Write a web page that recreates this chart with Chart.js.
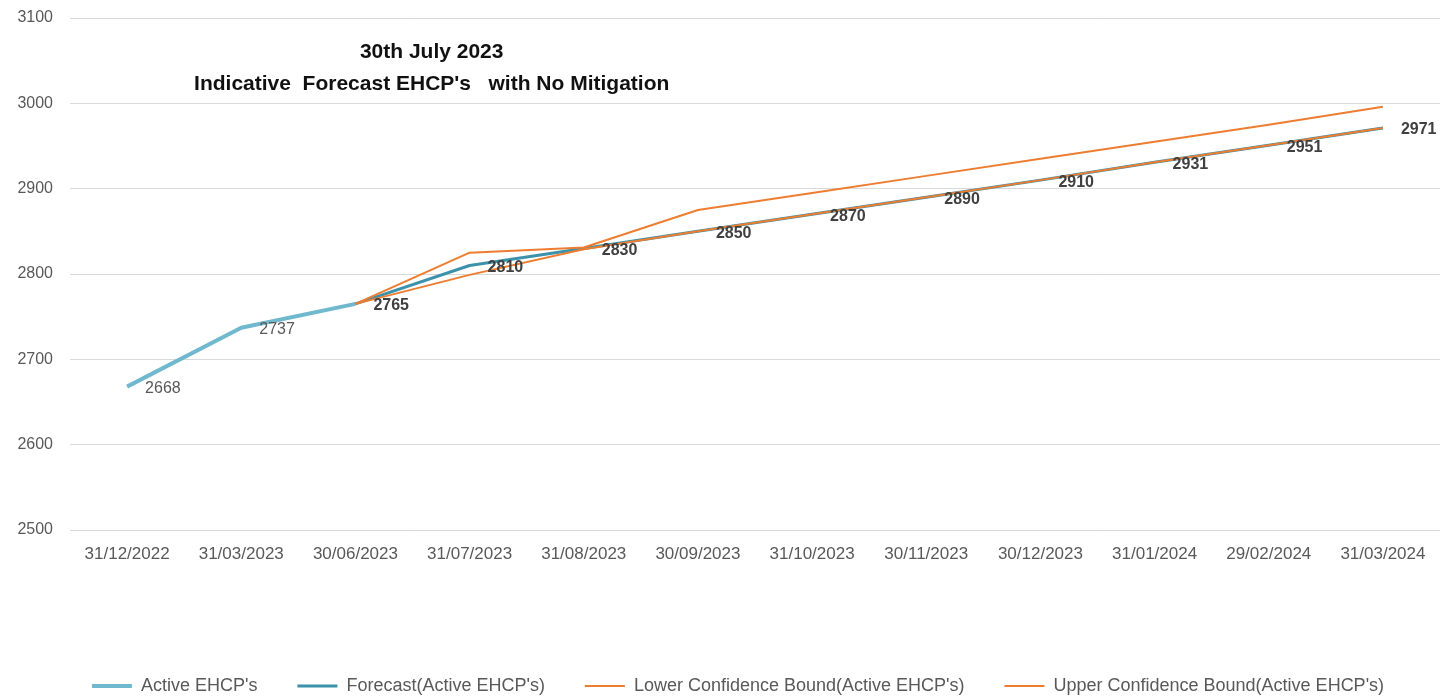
<!DOCTYPE html>
<html>
<head>
<meta charset="utf-8">
<title>Indicative Forecast EHCP's</title>
<script src="https://cdn.jsdelivr.net/npm/chart.js@4.4.0/dist/chart.umd.min.js"></script>
<style>
  html, body { margin: 0; padding: 0; background: #fff; }
  #wrap { width: 1443px; height: 698px; }
</style>
</head>
<body>
<div id="wrap"><canvas id="lineChart"></canvas></div>
<script>
// dates on the x axis
var dates = ['31/12/2022', '31/03/2023', '30/06/2023', '31/07/2023', '31/08/2023', '30/09/2023',
             '31/10/2023', '30/11/2023', '30/12/2023', '31/01/2024', '29/02/2024', '31/03/2024'];

var activeEhcps = [2668, 2737, 2765, null, null, null, null, null, null, null, null, null];
var forecast = [null, null, 2765, 2810, 2830, 2850, 2870, 2890, 2910, 2931, 2951, 2971];
var lowerBound = [null, null, 2765, 2799, 2829, 2850, 2870, 2890, 2910, 2931, 2951, 2971];
var upperBound = [null, null, 2765, 2825, 2831, 2875, 2895, 2915, 2935, 2955, 2975, 2996];

var yTicks = [2500, 2600, 2700, 2800, 2900, 3000, 3100];
var titleLines = ['30th July 2023', "Indicative  Forecast EHCP's   with No Mitigation"];

var sans = "'Liberation Sans', Arial, sans-serif";

// value labels next to the points (active + forecast only)
var valueLabels = {
    id: 'valueLabels',
    afterDatasetsDraw: function (chart) {
        var ctx = chart.ctx;
        ctx.save();
        ctx.textBaseline = 'middle';
        ctx.textAlign = 'left';
        [0, 1].forEach(function (di) {
            var meta = chart.getDatasetMeta(di);
            var ds = chart.data.datasets[di];
            ctx.font = (di === 1 ? 'bold ' : '') + '16px ' + sans;
            ctx.fillStyle = di === 1 ? '#404040' : '#595959';
            meta.data.forEach(function (pt, i) {
                var v = ds.data[i];
                if (v === null) return;
                if (di === 0 && forecast[i] !== null) return; // shared point labelled by forecast
                ctx.fillText(String(v), pt.x + 18, pt.y + 2);
            });
        });
        ctx.restore();
    }
};

// two-line title inside the plot area, legend nudged to the right a bit
var innerTitle = {
    id: 'innerTitle',
    afterLayout: function (chart) {
        if (chart.legend) {
            chart.legend.left += 18;
            chart.legend.right += 18;
        }
    },
    afterDraw: function (chart) {
        var ca = chart.chartArea;
        var ctx = chart.ctx;
        var cx = ca.left + (ca.right - ca.left) * 0.264;
        ctx.save();
        ctx.font = 'bold 21px ' + sans;
        ctx.fillStyle = '#111';
        ctx.textAlign = 'center';
        ctx.textBaseline = 'middle';
        ctx.fillText(titleLines[0], cx, ca.top + 34);
        ctx.fillText(titleLines[1], cx, ca.top + 66);
        ctx.restore();
    }
};

var lineCanvas = document.getElementById('lineChart').getContext('2d');

new Chart(lineCanvas, {
    type: 'line',
    data: {
        labels: dates,
        datasets: [
            {
                label: "Active EHCP's",
                data: activeEhcps,
                borderColor: '#6fb8cd',
                backgroundColor: '#6fb8cd',
                borderWidth: 4,
                order: 4
            },
            {
                label: "Forecast(Active EHCP's)",
                data: forecast,
                borderColor: '#3b92aa',
                backgroundColor: '#3b92aa',
                borderWidth: 3,
                order: 3
            },
            {
                label: "Lower Confidence Bound(Active EHCP's)",
                data: lowerBound,
                borderColor: '#ed7d31',
                backgroundColor: '#ed7d31',
                borderWidth: 2,
                order: 2
            },
            {
                label: "Upper Confidence Bound(Active EHCP's)",
                data: upperBound,
                borderColor: '#ed7d31',
                backgroundColor: '#ed7d31',
                borderWidth: 2,
                order: 1
            }
        ]
    },
    options: {
        responsive: true,
        maintainAspectRatio: false,
        animation: false,
        layout: { padding: { top: 18, right: 3, left: 0, bottom: -7 } },
        elements: {
            point: { radius: 0, hoverRadius: 0 },
            line: { tension: 0, borderCapStyle: 'butt', borderJoinStyle: 'round' }
        },
        scales: {
            x: {
                offset: true,
                grid: { display: false, drawTicks: false },
                border: { display: false },
                ticks: {
                    color: '#595959',
                    font: { size: 17, family: sans },
                    padding: 14,
                    maxRotation: 0,
                    autoSkip: false
                },
                afterFit: function (s) { s.height = 107; }
            },
            y: {
                min: yTicks[0],
                max: yTicks[yTicks.length - 1],
                afterBuildTicks: function (s) {
                    s.ticks = yTicks.map(function (v) { return { value: v }; });
                },
                grid: { color: '#d9d9d9', drawTicks: false, lineWidth: 1 },
                border: { display: false },
                ticks: {
                    color: '#595959',
                    font: { size: 16, family: sans },
                    padding: 17,
                    callback: function (v) { return String(v); }
                },
                afterFit: function (s) {
                    s.width = 70;
                    s.paddingTop = 0;
                    s.paddingBottom = 0;
                }
            }
        },
        plugins: {
            tooltip: { enabled: false },
            title: { display: false },
            legend: {
                position: 'bottom',
                labels: {
                    usePointStyle: true,
                    pointStyle: 'line',
                    pointStyleWidth: 40,
                    color: '#595959',
                    font: { size: 18, family: sans },
                    padding: 40,
                    sort: function (a, b) { return a.datasetIndex - b.datasetIndex; }
                }
            }
        }
    },
    plugins: [valueLabels, innerTitle]
});
</script>
</body>
</html>
